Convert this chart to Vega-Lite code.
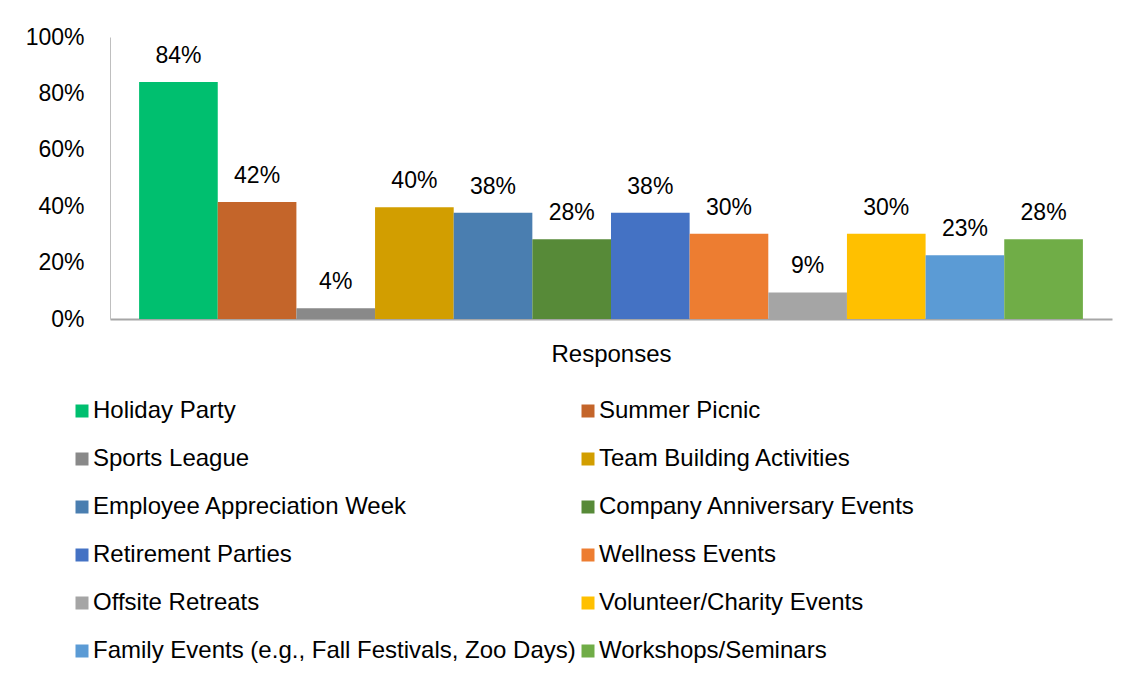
{
  "$schema": "https://vega.github.io/schema/vega-lite/v6.json",
  "width": 1002,
  "height": 282,
  "autosize": "none",
  "padding": {"left": 110, "top": 37, "right": 29, "bottom": 365},
  "background": "white",
  "config": {
    "view": {"stroke": null},
    "font": "Liberation Sans",
    "axis": {"labelFont": "Liberation Sans", "titleFont": "Liberation Sans", "labelColor": "#000000", "titleColor": "#000000"},
    "legend": {"labelFont": "Liberation Sans", "labelColor": "#000000"}
  },
  "data": {
    "values": [
      {"event": "Holiday Party", "share": 0.84},
      {"event": "Summer Picnic", "share": 0.415},
      {"event": "Sports League", "share": 0.038},
      {"event": "Team Building Activities", "share": 0.396},
      {"event": "Employee Appreciation Week", "share": 0.377},
      {"event": "Company Anniversary Events", "share": 0.283},
      {"event": "Retirement Parties", "share": 0.377},
      {"event": "Wellness Events", "share": 0.302},
      {"event": "Offsite Retreats", "share": 0.094},
      {"event": "Volunteer/Charity Events", "share": 0.302},
      {"event": "Family Events (e.g., Fall Festivals, Zoo Days)", "share": 0.226},
      {"event": "Workshops/Seminars", "share": 0.283}
    ]
  },
  "encoding": {
    "x": {
      "field": "event",
      "type": "nominal",
      "sort": null,
      "scale": {"paddingInner": 0, "paddingOuter": 0.37},
      "axis": {
        "title": "Responses",
        "labels": false,
        "ticks": false,
        "domainColor": "#A6A6A6",
        "domainWidth": 2,
        "titleFontSize": 24,
        "titleFontWeight": "normal",
        "titlePadding": 23
      }
    },
    "y": {
      "field": "share",
      "type": "quantitative",
      "scale": {"domain": [0, 1]},
      "axis": {
        "title": null,
        "format": ".0%",
        "values": [0, 0.2, 0.4, 0.6, 0.8, 1],
        "grid": false,
        "ticks": false,
        "domainColor": "#BFBFBF",
        "labelFontSize": 23,
        "labelPadding": 26
      }
    }
  },
  "layer": [
    {
      "mark": {"type": "bar"},
      "encoding": {
        "color": {
          "field": "event",
          "type": "nominal",
          "scale": {
            "domain": ["Holiday Party", "Sports League", "Employee Appreciation Week", "Retirement Parties", "Offsite Retreats", "Family Events (e.g., Fall Festivals, Zoo Days)", "Summer Picnic", "Team Building Activities", "Company Anniversary Events", "Wellness Events", "Volunteer/Charity Events", "Workshops/Seminars"],
            "range": ["#00BF6F", "#898989", "#4A7EB0", "#4472C4", "#A5A5A5", "#5B9BD5", "#C4652A", "#D29E00", "#578A38", "#ED7D31", "#FFC000", "#70AD47"]
          },
          "legend": {
            "title": null,
            "orient": "none",
            "legendX": -40,
            "legendY": 362,
            "columns": 2,
            "columnPadding": -2,
            "rowPadding": 24,
            "symbolType": "square",
            "symbolSize": 169,
            "symbolStrokeWidth": 0,
            "labelFontSize": 24,
            "labelOffset": -1,
            "labelLimit": 600
          }
        }
      }
    },
    {
      "mark": {"type": "text", "baseline": "alphabetic", "dy": -19, "fontSize": 23, "color": "#000000"},
      "encoding": {
        "text": {"field": "share", "type": "quantitative", "format": ".0%"}
      }
    }
  ]
}
